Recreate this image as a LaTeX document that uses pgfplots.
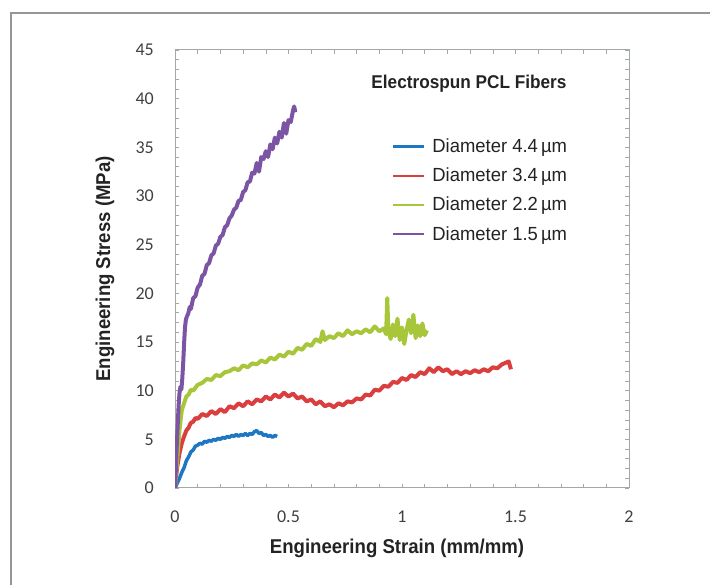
\documentclass[border=0pt]{standalone}
\usepackage{fontspec}
\setmainfont{Carlito}
\newfontfamily\condfont[FakeStretch=0.93]{Liberation Sans}
\newfontfamily\legfont[FakeStretch=0.97]{Liberation Sans}
\usepackage{pgfplots}
\pgfplotsset{compat=1.18}

\definecolor{cblue}{RGB}{31,119,196}
\definecolor{cred}{RGB}{218,62,62}
\definecolor{cgreen}{RGB}{167,198,58}
\definecolor{cpurple}{RGB}{124,84,164}
\definecolor{axiscol}{RGB}{160,168,168}
\definecolor{ticktext}{RGB}{64,64,64}
\definecolor{labeltext}{RGB}{35,35,35}
\definecolor{framecol}{RGB}{150,150,150}

\begin{document}
\begin{tikzpicture}[x=1pt,y=1pt]
\useasboundingbox (0,0) rectangle (710,585);
\draw[framecol, line width=1.2pt] (11,0) -- (11,572) -- (710,572);
\begin{axis}[
    at={(175pt,97pt)}, anchor=south west,
    scale only axis, width=454pt, height=438pt,
    xmin=0, xmax=2, ymin=0, ymax=45,
    xtick={0,0.5,1,1.5,2},
    ytick={0,5,10,15,20,25,30,35,40,45},
    minor x tick num=4, minor y tick num=4,
    tick align=inside,
    major tick length=4pt, minor tick length=4pt,
    axis line style={axiscol, line width=1pt},
    every tick/.style={axiscol, line width=0.6pt},
    /pgf/number format/assume math mode=true,
    tick label style={font=\fontsize{18}{21}\selectfont, text=ticktext, inner sep=0pt},
    yticklabel style={anchor=east, xshift=-21pt},
    xticklabel style={anchor=north, yshift=-23pt},
    xlabel={Engineering Strain (mm/mm)},
    ylabel={Engineering Stress (MPa)},
    label style={font=\condfont\bfseries\fontsize{20}{23}\selectfont, text=labeltext},
    xlabel style={at={(rel axis cs:0.489,-0.137)}, anchor=center},
    ylabel style={at={(rel axis cs:-0.154,0.5)}, anchor=center},
    legend style={at={(axis cs:0.956,36.1)}, anchor=north west, draw=none, fill=none,
        font=\legfont\fontsize{19}{22}\selectfont, text=labeltext,
        row sep=9.9pt, inner sep=0pt,
        /tikz/every odd column/.append style={column sep=5pt}},
    legend cell align=left,
    legend image code/.code={\draw[#1, line width=2.2pt] (0pt,0pt) -- (31pt,0pt);},
]
\addplot[color=cblue, line width=3.5pt, line join=round] coordinates {
(0,0) (0.01,0.5) (0.02,1.0) (0.03,1.6) (0.04,2.1) (0.05,2.8) (0.06,3.2) (0.07,3.7)
(0.08,3.9) (0.09,4.3) (0.10,4.4) (0.11,4.6) (0.12,4.5) (0.13,4.8) (0.14,4.7) (0.15,4.9)
(0.16,4.8) (0.17,5.0) (0.18,4.9) (0.19,5.1) (0.20,5.0) (0.21,5.2) (0.22,5.1) (0.23,5.3)
(0.24,5.2) (0.25,5.4) (0.26,5.3) (0.27,5.5) (0.28,5.3) (0.29,5.5) (0.30,5.4) (0.31,5.6)
(0.32,5.4) (0.33,5.6) (0.34,5.5) (0.35,5.8) (0.36,5.9) (0.37,5.6) (0.38,5.7) (0.39,5.4)
(0.40,5.5) (0.41,5.3) (0.42,5.4) (0.43,5.2) (0.44,5.4) (0.45,5.3)
};
\addlegendentry{Diameter 4.4\,µm}
\addplot[color=cred, line width=4pt, line join=round] coordinates {
(0,0) (0.005,1.2) (0.01,2.2) (0.02,3.6) (0.03,4.6) (0.04,5.3) (0.05,5.9) (0.06,6.2)
(0.07,6.7) (0.08,6.8) (0.09,7.2) (0.10,7.1) (0.12,7.6) (0.14,7.4) (0.16,7.9) (0.18,7.6)
(0.20,8.1) (0.22,7.8) (0.24,8.4) (0.26,8.2) (0.28,8.7) (0.30,8.4) (0.32,8.9) (0.34,8.6)
(0.36,9.1) (0.38,8.9) (0.40,9.4) (0.42,9.1) (0.44,9.6) (0.46,9.3) (0.48,9.8) (0.50,9.4)
(0.52,9.7) (0.54,9.2) (0.56,9.4) (0.58,8.9) (0.60,9.1) (0.62,8.6) (0.64,8.9) (0.66,8.4)
(0.68,8.6) (0.70,8.3) (0.72,8.7) (0.74,8.5) (0.76,8.9) (0.78,8.8) (0.80,9.2) (0.82,9.1)
(0.84,9.6) (0.86,9.5) (0.88,10.1) (0.90,10.0) (0.92,10.5) (0.94,10.4) (0.96,10.9) (0.98,10.8)
(1.00,11.3) (1.02,11.1) (1.04,11.6) (1.06,11.4) (1.08,11.9) (1.10,11.7) (1.12,12.3) (1.14,11.9)
(1.16,12.4) (1.18,12.0) (1.20,12.2) (1.22,11.7) (1.24,12.0) (1.26,11.7) (1.28,12.0) (1.30,11.8)
(1.32,12.1) (1.34,11.9) (1.36,12.2) (1.38,12.0) (1.40,12.4) (1.42,12.3) (1.44,12.7) (1.46,12.9)
(1.47,13.0) (1.48,12.2)
};
\addlegendentry{Diameter 3.4\,µm}
\addplot[color=cgreen, line width=4pt, line join=round] coordinates {
(0,0) (0.01,3) (0.02,6) (0.03,8.0) (0.04,8.7) (0.05,9.4) (0.06,9.6) (0.07,10.1)
(0.08,10.0) (0.10,10.6) (0.12,10.8) (0.14,11.2) (0.16,11.1) (0.18,11.6) (0.20,11.5) (0.22,11.9)
(0.24,12.0) (0.26,12.3) (0.28,12.1) (0.30,12.6) (0.32,12.4) (0.34,12.8) (0.36,12.7) (0.38,13.1)
(0.40,12.9) (0.42,13.4) (0.44,13.2) (0.46,13.7) (0.48,13.5) (0.50,14.0) (0.52,13.8) (0.54,14.4)
(0.56,14.2) (0.58,14.8) (0.60,14.6) (0.62,15.3) (0.64,15.0) (0.65,16.1) (0.66,15.2) (0.68,15.6)
(0.70,15.4) (0.72,15.9) (0.74,15.6) (0.76,16.2) (0.78,15.8) (0.80,16.1) (0.82,15.9) (0.84,16.3)
(0.86,16.0) (0.88,16.6) (0.90,16.1) (0.92,16.4) (0.93,15.8) (0.935,19.5) (0.94,16.2) (0.95,15.3)
(0.96,16.8) (0.97,15.6) (0.98,17.4) (0.99,15.2) (1.00,16.5) (1.01,14.8) (1.02,16.2) (1.03,17.3)
(1.04,15.9) (1.05,17.8) (1.06,15.4) (1.07,16.7) (1.08,15.6) (1.09,16.9) (1.10,15.7) (1.11,16.2)
};
\addlegendentry{Diameter 2.2\,µm}
\addplot[color=cpurple, line width=4pt, line join=round] coordinates {
(0,0) (0.004,2.0) (0.008,4.5) (0.012,6.5) (0.016,8.5) (0.020,9.8) (0.024,10.4) (0.028,10.1)
(0.032,11.2) (0.036,12.8) (0.040,14.8) (0.044,16.5) (0.048,17.3) (0.052,17.6) (0.058,17.9) (0.065,18.6)
(0.07,18.4) (0.08,19.5) (0.09,19.7) (0.10,20.6) (0.11,20.9) (0.12,21.8) (0.13,22.0) (0.14,22.9)
(0.15,23.1) (0.16,23.9) (0.17,24.1) (0.18,24.9) (0.19,25.1) (0.20,25.8) (0.21,26.0) (0.22,26.8)
(0.23,27.0) (0.24,27.7) (0.25,28.0) (0.26,28.6) (0.27,28.8) (0.28,29.5) (0.29,29.6) (0.30,30.4)
(0.31,30.6) (0.32,31.4) (0.33,31.5) (0.34,32.4) (0.35,32.3) (0.36,33.4) (0.37,32.5) (0.38,34.0)
(0.39,33.8) (0.40,34.6) (0.41,34.0) (0.42,35.3) (0.43,34.8) (0.44,36.0) (0.45,35.4) (0.46,36.6)
(0.47,36.0) (0.48,37.5) (0.49,36.4) (0.50,37.8) (0.51,37.6) (0.52,38.8) (0.525,39.2) (0.53,38.6)
};
\addlegendentry{Diameter 1.5\,µm}
\node[font=\condfont\bfseries\fontsize{18.5}{21}\selectfont, text=labeltext] at (axis cs:1.295,41.5) {Electrospun PCL Fibers};
\end{axis}
\end{tikzpicture}
\end{document}
